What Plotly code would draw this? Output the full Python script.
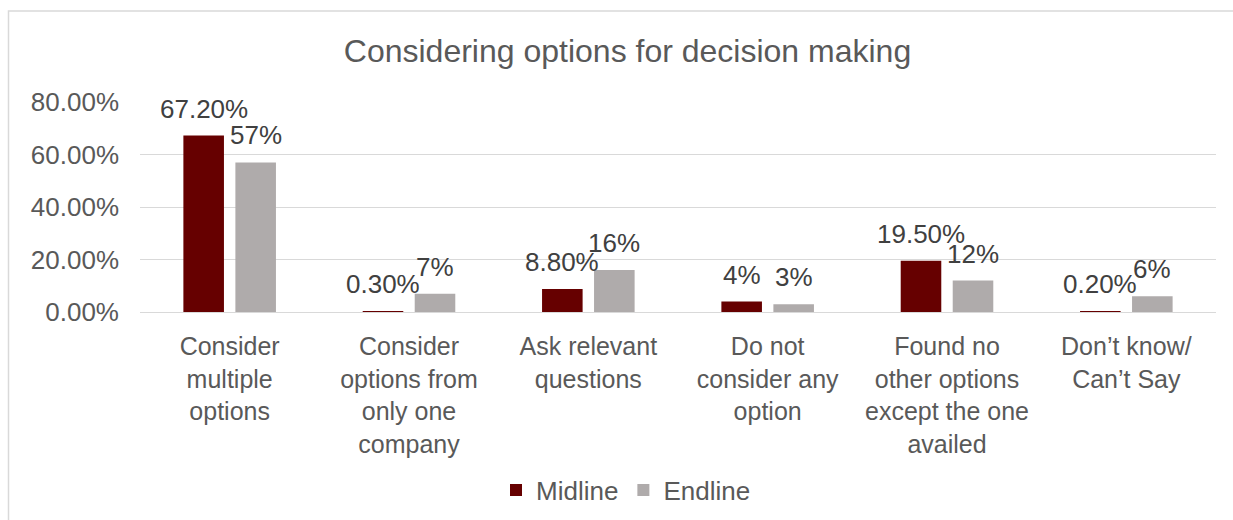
import plotly.graph_objects as go

categories = [
    "Consider<br>multiple<br>options",
    "Consider<br>options from<br>only one<br>company",
    "Ask relevant<br>questions",
    "Do not<br>consider any<br>option",
    "Found no<br>other options<br>except the one<br>availed",
    "Don’t know/<br>Can’t Say",
]
midline = [0.672, 0.003, 0.088, 0.04, 0.195, 0.002]
midline_labels = ["67.20%", "0.30%", "8.80%", "4%", "19.50%", "0.20%"]
endline = [0.57, 0.07, 0.16, 0.03, 0.12, 0.06]
endline_labels = ["57%", "7%", "16%", "3%", "12%", "6%"]
y_ticks = [0, 0.2, 0.4, 0.6, 0.8]
y_tick_labels = ["0.00%", "20.00%", "40.00%", "60.00%", "80.00%"]

W, H = 1233, 520
L, R, T, B = 140, 17, 102, 208
pw, ph = W - L - R, H - T - B
BARGAP, GROUPGAP = 0.42, 0.22

FONT = "Liberation Sans, Arial, sans-serif"
TXT = "#595959"
LBL = "#404040"

fig = go.Figure()
fig.add_trace(go.Bar(
    x=categories, y=midline, name="Midline",
    marker=dict(color="#660000", line=dict(width=0)),
))
fig.add_trace(go.Bar(
    x=categories, y=endline, name="Endline",
    marker=dict(color="#AFABAB", line=dict(width=0)),
))

# value labels sit above each bar; the horizontal shift is half a group slot
slot_px = (1 - BARGAP) * (pw / len(categories)) / 2
annotations = []
for series, labels, side in ((midline, midline_labels, -1), (endline, endline_labels, 1)):
    for cat, val, lab in zip(categories, series, labels):
        annotations.append(dict(
            x=cat, y=val, xref="x", yref="y", text=lab, showarrow=False,
            xanchor="center", yanchor="bottom",
            xshift=side * slot_px / 2, yshift=10,
            font=dict(size=26, color=LBL, family=FONT),
        ))


def px_x(x):
    return (x - L) / pw


def px_y(y):
    return (H - B - y) / ph


fig.update_layout(
    width=W, height=H,
    margin=dict(l=L, r=R, t=T, b=B, autoexpand=False),
    paper_bgcolor="white", plot_bgcolor="white",
    barmode="group", bargap=BARGAP, bargroupgap=GROUPGAP,
    font=dict(family=FONT, color=TXT, size=26),
    title=dict(
        text="Considering options for decision making",
        font=dict(size=32, color=TXT, family=FONT),
        x=627.5 / W, xanchor="center", xref="container",
        y=1 - 51 / H, yanchor="middle", yref="container",
    ),
    legend=dict(
        orientation="h", x=px_x(626), xanchor="center",
        y=px_y(490), yanchor="middle",
        font=dict(size=26, color=TXT, family=FONT),
        itemwidth=30, traceorder="normal",
    ),
    xaxis=dict(
        showgrid=False, showline=True, linecolor="#D9D9D9", linewidth=1,
        ticks="", tickfont=dict(size=25, color=TXT, family=FONT),
        ticklabelstandoff=12, automargin=False,
    ),
    yaxis=dict(
        range=[0, 0.8], tickvals=y_ticks, ticktext=y_tick_labels,
        showgrid=True, gridcolor="#D9D9D9", gridwidth=1,
        zeroline=False, showline=False, ticks="",
        tickfont=dict(size=26, color=TXT, family=FONT),
        ticklabelstandoff=20, automargin=False,
    ),
    annotations=annotations,
    shapes=[dict(
        type="rect", xref="paper", yref="paper",
        x0=px_x(8.5), x1=px_x(1300), y0=px_y(600), y1=px_y(11),
        line=dict(color="#D9D9D9", width=1.5), fillcolor="rgba(0,0,0,0)",
        layer="below",
    )],
)

fig.write_html("out.html")
